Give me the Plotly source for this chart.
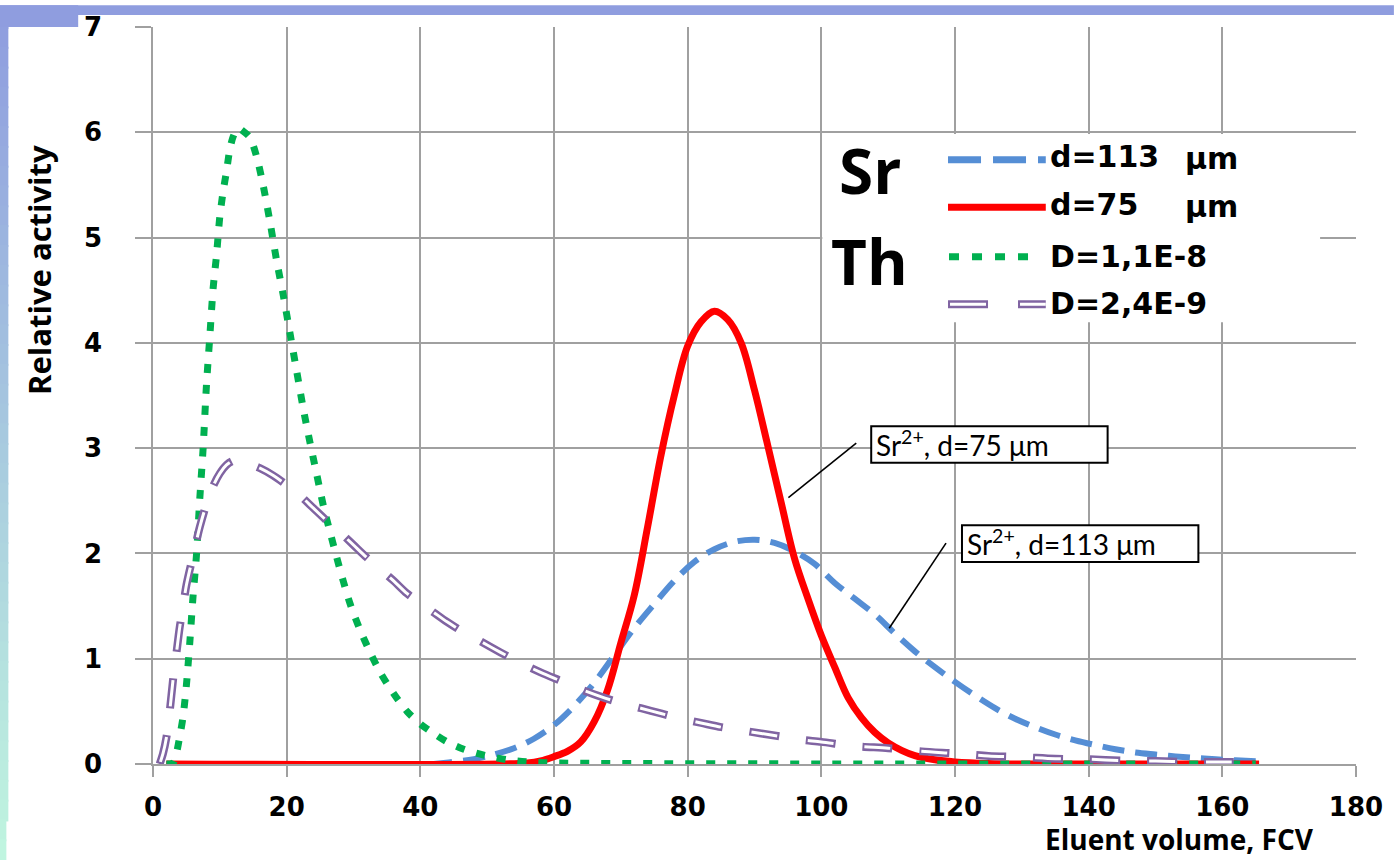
import plotly.graph_objects as go

# ---------------- data ----------------
x_sr113 = [2, 42, 45, 48, 51, 54, 57, 60, 63, 66, 69, 72, 75, 78, 81, 84, 87, 90, 93, 96, 99,
           102, 105, 108, 111, 114, 117, 120, 123, 126, 129, 132, 135, 138, 141, 144, 147, 150,
           153, 156, 159, 162, 165.5]
y_sr113 = [0, 0.0, 0.02, 0.045, 0.09, 0.15, 0.24, 0.37, 0.55, 0.77, 1.03, 1.29, 1.52, 1.74, 1.92,
           2.04, 2.11, 2.13, 2.10, 2.02, 1.90, 1.72, 1.57, 1.42, 1.24, 1.07, 0.92, 0.78, 0.65,
           0.53, 0.43, 0.35, 0.28, 0.225, 0.18, 0.14, 0.11, 0.09, 0.072, 0.058, 0.045, 0.035, 0.025]

x_sr75 = [2, 52, 56, 58, 60, 62, 64, 66, 68, 70, 72, 74, 76, 78, 80, 82, 84, 86, 88, 90, 92, 94,
          96, 98, 100, 102, 104, 106, 108, 110, 112, 114, 117, 120, 125, 130, 140, 150, 165.5]
y_sr75 = [0, 0, 0.01, 0.03, 0.07, 0.12, 0.21, 0.4, 0.7, 1.15, 1.6, 2.25, 2.93, 3.5, 3.97, 4.2,
          4.30, 4.22, 4.0, 3.55, 3.02, 2.48, 1.95, 1.57, 1.22, 0.92, 0.63, 0.44, 0.3, 0.2, 0.13,
          0.08, 0.04, 0.02, 0.005, 0, 0, 0, 0]

x_th11 = [2, 3, 3.5, 4, 4.5, 5, 5.5, 6, 6.5, 7, 7.5, 8, 8.5, 9, 9.5, 10, 10.5, 11, 11.5, 12, 12.7,
          13.5, 14.5, 15.5, 16.5, 17.5, 18.5, 19.5, 20.5, 21.5, 22.5, 23.5, 24.5, 25.5, 26.5,
          27.5, 28.5, 29.5, 31, 32.5, 34, 36, 38, 40, 42, 44, 46.5, 49.5, 53, 56, 60, 165]
y_th11 = [0, 0.01, 0.1, 0.26, 0.45, 0.75, 1.15, 1.6, 1.98, 2.52, 3.0, 3.6, 4.06, 4.52, 4.83, 5.2,
          5.44, 5.63, 5.84, 5.96, 6.04, 6.01, 5.95, 5.77, 5.49, 5.15, 4.78, 4.45, 4.09, 3.73, 3.37,
          3.05, 2.75, 2.45, 2.2, 1.96, 1.73, 1.52, 1.27, 1.06, 0.87, 0.67, 0.5, 0.38, 0.29, 0.21,
          0.14, 0.085, 0.04, 0.02, 0.01, 0]

x_th24 = [1, 1.5, 2, 2.5, 3, 3.5, 4, 4.5, 5, 6, 7, 8, 9, 10, 11, 12, 13, 14, 16, 18, 20, 22, 24,
          26, 28, 30, 32, 34, 36, 38, 40, 42, 44, 46, 48, 50, 52, 55, 58, 61, 64, 67, 70, 73, 76,
          79, 82, 85, 88, 91, 94, 97, 100, 105, 110, 115, 120, 125, 130, 135, 140, 145, 150, 155,
          160, 165.5]
y_th24 = [0, 0.1, 0.25, 0.5, 0.8, 1.05, 1.3, 1.5, 1.7, 1.98, 2.25, 2.47, 2.64, 2.76, 2.84, 2.88,
          2.88, 2.86, 2.81, 2.74, 2.65, 2.55, 2.43, 2.31, 2.2, 2.08, 1.96, 1.85, 1.74, 1.62, 1.53,
          1.44, 1.35, 1.27, 1.20, 1.13, 1.06, 0.96, 0.87, 0.79, 0.71, 0.64, 0.58, 0.53, 0.48, 0.43,
          0.39, 0.35, 0.32, 0.29, 0.26, 0.23, 0.21, 0.17, 0.15, 0.12, 0.10, 0.077, 0.066, 0.05,
          0.045, 0.032, 0.028, 0.02, 0.02, 0.015]

x_ticks = [0, 20, 40, 60, 80, 100, 120, 140, 160, 180]
y_ticks = [0, 1, 2, 3, 4, 5, 6, 7]

legend_labels = ["d=113", "d=75", "D=1,1E-8", "D=2,4E-9"]

# ---------------- geometry helpers ----------------
W, H = 1395, 860
L, R, T, B = 153, 1359, 20, 764


def px(x):
    return (x - L) / (R - L)


def py(y):
    return (B - y) / (B - T)


BLUE = "#558ED5"
RED = "#FF0000"
GREEN = "#00B050"
PURPLE = "#8064A2"
GRID = "#A0A0A0"

fig = go.Figure()

fig.add_trace(go.Scatter(x=x_sr113, y=y_sr113, mode="lines",
                         line=dict(color=BLUE, width=6, dash="22px,11px", shape="spline", smoothing=1),
                         showlegend=False, hoverinfo="skip"))
fig.add_trace(go.Scatter(x=x_sr75, y=y_sr75, mode="lines",
                         line=dict(color=RED, width=7, shape="spline", smoothing=1),
                         showlegend=False, hoverinfo="skip"))
fig.add_trace(go.Scatter(x=x_th11, y=y_th11, mode="lines",
                         line=dict(color=GREEN, width=7, dash="9px,12px", shape="spline", smoothing=0.8),
                         showlegend=False, hoverinfo="skip"))
fig.add_trace(go.Scatter(x=x_th24, y=y_th24, mode="lines",
                         line=dict(color=PURPLE, width=8, dash="30px,27px", shape="spline", smoothing=0.8),
                         showlegend=False, hoverinfo="skip"))
fig.add_trace(go.Scatter(x=x_th24, y=y_th24, mode="lines",
                         line=dict(color="white", width=3, dash="0px,2px,26px,29px", shape="spline", smoothing=0.8),
                         showlegend=False, hoverinfo="skip"))

shapes = []
annotations = []

# ---- slide frame (outside plot) ----
TOPC = (143, 157, 223)
BOTC = (192, 245, 224)
n = 43
for i in range(n):
    y0 = 20 * i
    y1 = 20 * (i + 1) + 2
    t = i / (n - 1)
    c = tuple(int(TOPC[k] + (BOTC[k] - TOPC[k]) * t) for k in range(3))
    wstrip = 8 if y0 < 812 else 6
    shapes.append(dict(type="rect", xref="paper", yref="paper", x0=px(-2), x1=px(wstrip),
                       y0=py(y0), y1=py(min(y1, H + 2)), fillcolor="rgb(%d,%d,%d)" % c,
                       line=dict(width=0), layer="above"))
shapes.append(dict(type="rect", xref="paper", yref="paper", x0=px(-2), x1=px(W + 2), y0=py(-2), y1=py(8),
                   fillcolor="rgb(143,157,223)", line=dict(width=0), layer="above"))
shapes.append(dict(type="rect", xref="paper", yref="paper", x0=px(-2), x1=px(78), y0=py(-2), y1=py(20),
                   fillcolor="rgb(143,157,223)", line=dict(width=0), layer="above"))

# ---- legend box ----
shapes.append(dict(type="rect", xref="paper", yref="paper", x0=px(824), x1=px(1323), y0=py(128), y1=py(318),
                   fillcolor="white", line=dict(width=0), layer="above"))
LX0, LX1 = 950, 1048
shapes.append(dict(type="line", xref="paper", yref="paper", x0=px(LX0), x1=px(LX1), y0=py(154), y1=py(154),
                   line=dict(color=BLUE, width=7, dash="33px,12px"), layer="above"))
shapes.append(dict(type="line", xref="paper", yref="paper", x0=px(LX0), x1=px(LX1), y0=py(202), y1=py(202),
                   line=dict(color=RED, width=7), layer="above"))
shapes.append(dict(type="line", xref="paper", yref="paper", x0=px(951), x1=px(1031), y0=py(252), y1=py(252),
                   line=dict(color=GREEN, width=7, dash="10px,13px"), layer="above"))
shapes.append(dict(type="line", xref="paper", yref="paper", x0=px(LX0), x1=px(LX1), y0=py(300), y1=py(300),
                   line=dict(color=PURPLE, width=8, dash="40px,30px"), layer="above"))
shapes.append(dict(type="line", xref="paper", yref="paper", x0=px(LX0), x1=px(LX1), y0=py(300), y1=py(300),
                   line=dict(color="white", width=3, dash="0px,2px,36px,32px"), layer="above"))

LEGF = dict(family="DejaVu Sans", size=30, color="black", weight="bold")
for lab, yy in zip(legend_labels, [151, 199, 252, 299]):
    annotations.append(dict(xref="paper", yref="paper", x=px(1050), y=py(yy), text=lab, showarrow=False,
                            xanchor="left", yanchor="middle", font=LEGF))
for yy in [153, 201]:
    annotations.append(dict(xref="paper", yref="paper", x=px(1186), y=py(yy), text="μm", showarrow=False,
                            xanchor="left", yanchor="middle", font=LEGF))
BIGF = dict(family="Open Sans", size=62, color="black", weight="bold")
annotations.append(dict(xref="paper", yref="paper", x=px(872), y=py(164), text="Sr", showarrow=False,
                        xanchor="center", yanchor="middle", font=BIGF))
annotations.append(dict(xref="paper", yref="paper", x=px(871), y=py(256), text="Th", showarrow=False,
                        xanchor="center", yanchor="middle", font=BIGF))

# ---- callout boxes ----
BOXF = dict(family="Lato", size=28, color="black")
for (bx0, bx1, by0, by1, txt) in [(873, 1110, 423, 460, "Sr<sup>2+</sup>, d=75 μm"),
                                  (964, 1201, 523, 560, "Sr<sup>2+</sup>, d=113 μm")]:
    shapes.append(dict(type="rect", xref="paper", yref="paper", x0=px(bx0), x1=px(bx1), y0=py(by0), y1=py(by1),
                       fillcolor="white", line=dict(color="black", width=2), layer="above"))
    annotations.append(dict(xref="paper", yref="paper", x=px(bx0 + 3), y=py((by0 + by1) / 2 - 1), text=txt,
                            showarrow=False, xanchor="left", yanchor="middle", font=BOXF))
shapes.append(dict(type="line", xref="paper", yref="paper", x0=px(858), y0=py(440), x1=px(790), y1=py(495),
                   line=dict(color="black", width=1.6), layer="above"))
shapes.append(dict(type="line", xref="paper", yref="paper", x0=px(948), y0=py(541), x1=px(891), y1=py(627),
                   line=dict(color="black", width=1.6), layer="above"))

# ---- axis titles ----
TITF = dict(family="Open Sans", size=28, color="black", weight="bold")
annotations.append(dict(xref="paper", yref="paper", x=px(1182), y=py(840), text="Eluent volume, FCV",
                        showarrow=False, xanchor="center", yanchor="middle", font=TITF))
annotations.append(dict(xref="paper", yref="paper", x=px(38), y=py(265), text="Relative activity",
                        showarrow=False, xanchor="center", yanchor="middle", textangle=-90,
                        font=dict(family="Open Sans", size=31, color="black", weight="bold")))

TICKF = dict(family="DejaVu Sans", size=26, color="black", weight="bold")

fig.update_layout(
    width=W, height=H,
    margin=dict(l=L, r=W - R, t=T, b=H - B),
    paper_bgcolor="white", plot_bgcolor="white",
    shapes=shapes, annotations=annotations,
    showlegend=False,
    xaxis=dict(range=[0, 180], tickvals=x_ticks, ticktext=[str(v) for v in x_ticks],
               showgrid=True, gridcolor=GRID, gridwidth=1.5, zeroline=False,
               showline=True, linecolor=GRID, linewidth=1.5,
               ticks="outside", ticklen=11, tickwidth=1.5, tickcolor=GRID,
               tickfont=TICKF, ticklabelstandoff=8, fixedrange=True),
    yaxis=dict(range=[0, 7], tickvals=y_ticks, ticktext=[str(v) for v in y_ticks],
               showgrid=True, gridcolor=GRID, gridwidth=1.5, zeroline=False,
               showline=True, linecolor=GRID, linewidth=1.5,
               ticks="outside", ticklen=16, tickwidth=1.5, tickcolor=GRID,
               tickfont=TICKF, ticklabelstandoff=28, fixedrange=True),
)

fig.write_html("out.html")
